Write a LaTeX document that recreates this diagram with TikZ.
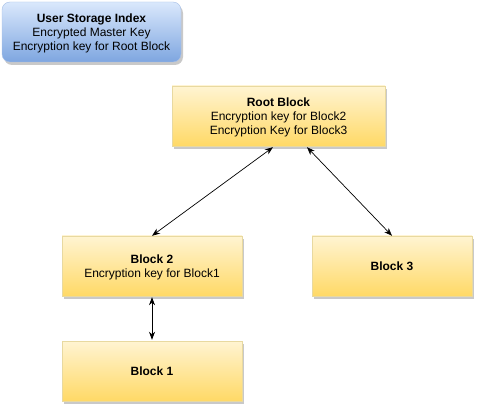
\documentclass[tikz,border=0pt]{standalone}
\usepackage{fontspec}
\setmainfont{Liberation Sans}
\usetikzlibrary{shadows,arrows.meta}
\definecolor{yelTop}{HTML}{FFF4D2}
\definecolor{yelBot}{HTML}{FFD966}
\definecolor{yelEdge}{HTML}{E8D9A0}
\definecolor{bluTop}{HTML}{DAE8FC}
\definecolor{bluBot}{HTML}{7EA6E0}
\definecolor{bluEdge}{HTML}{A9C1E8}
\tikzset{
  blk/.style={draw=yelEdge, top color=yelTop, bottom color=yelBot, minimum height=60pt,
    align=center, font=\fontsize{12}{14}\selectfont, inner sep=0pt, text depth=-2pt,
    drop shadow={shadow xshift=2pt, shadow yshift=-3pt, opacity=0.35, fill=black!60}},
  idx/.style={blk, draw=bluEdge, top color=bluTop, bottom color=bluBot, rounded corners=8pt},
  link/.style={{Stealth[length=8pt, width=6pt, inset=2.5pt]}-{Stealth[length=8pt, width=6pt, inset=2.5pt]}, line width=0.7pt}
}
\begin{document}
\begin{tikzpicture}[x=1pt, y=-1pt]
  \useasboundingbox[fill=white] (0,0) rectangle (485,406);
  \node[idx, minimum width=179pt] (usi) at (91.5,32) {\textbf{User Storage Index}\\Encrypted Master Key\\Encryption key for Root Block};
  \node[blk, minimum width=213pt] (root) at (278.5,116) {\textbf{Root Block}\\Encryption key for Block2\\Encryption Key for Block3};
  \node[blk, minimum width=180pt] (b2) at (152,266) {\textbf{Block 2}\\Encryption key for Block1};
  \node[blk, minimum width=160pt] (b3) at (392,266) {\textbf{Block 3}};
  \node[blk, minimum width=180pt] (b1) at (152,371) {\textbf{Block 1}};
  \draw[link] ([xshift=-5.5pt, yshift=-1pt]root.south) -- (b2.north);
  \draw[link] ([xshift=28.5pt, yshift=-1pt]root.south) -- (b3.north);
  \draw[link] ([yshift=-1pt]b2.south) -- ([yshift=1pt]b1.north);
\end{tikzpicture}
\end{document}
